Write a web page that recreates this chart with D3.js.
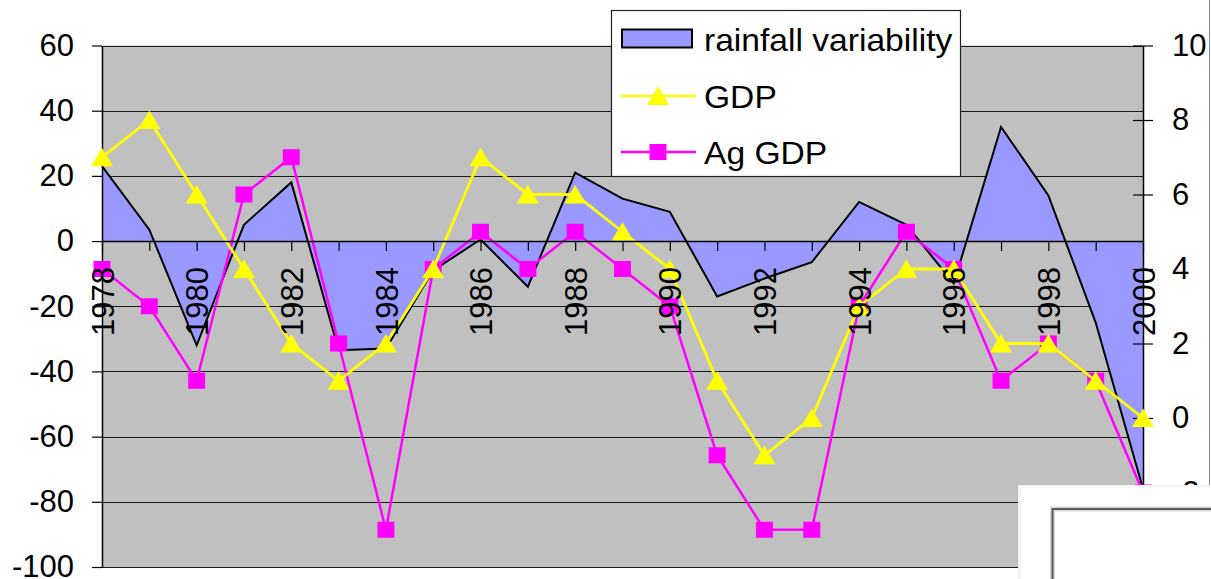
<!DOCTYPE html>
<html>
<head>
<meta charset="utf-8">
<script src="https://cdn.jsdelivr.net/npm/d3@7"></script>
<style>
	body { margin: 0; background: #fff; }
	svg { display: block; }
	text { font-family: "Liberation Sans", Arial, sans-serif; fill: #000; }
</style>
</head>
<body>
<div id="chart"></div>
<script>
// categories
const years = ["1978", "1979", "1980", "1981", "1982", "1983", "1984", "1985", "1986", "1987", "1988",
	"1989", "1990", "1991", "1992", "1993", "1994", "1995", "1996", "1997", "1998", "1999", "2000"];
// left axis series (area)
const rainfall = [23, 3.5, -32, 5, 18, -33.5, -33, -9, 0.5, -14, 21, 13, 9, -17, -11.5, -6.5, 12, 5, -13, 35, 14, -25, -76];
// right axis series (lines)
const gdp = [7, 8, 6, 4, 2, 1, 2, 4, 7, 6, 6, 5, 4, 1, -1, 0, 3, 4, 4, 2, 2, 1, 0];
const agGdp = [4, 3, 1, 6, 7, 2, -3, 4, 5, 4, 5, 4, 3, -1, -3, -3, 3, 5, 4, 1, 2, 1, -2];
// tick labels
const leftTicks = [60, 40, 20, 0, -20, -40, -60, -80, -100];
const rightTicks = [10, 8, 6, 4, 2, 0, -2];
const xLabels = ["1978", "1980", "1982", "1984", "1986", "1988", "1990", "1992", "1994", "1996", "1998", "2000"];
const seriesNames = ["rainfall variability", "GDP", "Ag GDP"];

drawchart()

function drawchart() {
	const width = 1211;
	const height = 579;
	const svg = d3.select("#chart")
		.append("svg")
		.attr("width", width)
		.attr("height", height);

	const left = 102, right = 1143, top = 45.5, bottom = 567;

	const x = d3.scalePoint().domain(years).range([left, right]).padding(0);
	const yLeft = d3.scaleLinear().domain([-100, 60]).range([bottom, top]);
	const yRight = d3.scaleLinear().domain([-4, 10]).range([bottom, top]);

	// plot area
	svg.append("rect")
		.attr("x", left)
		.attr("y", top)
		.attr("width", right - left)
		.attr("height", bottom - top)
		.attr("fill", "#c0c0c0");

	// gridlines
	svg.append("g")
		.selectAll("line")
		.data(leftTicks)
		.enter()
		.append("line")
		.attr("x1", left)
		.attr("x2", right)
		.attr("y1", d => Math.round(yLeft(d)) + 0.5)
		.attr("y2", d => Math.round(yLeft(d)) + 0.5)
		.attr("stroke", "#1a1a1a")
		.attr("stroke-width", 1);

	// rainfall area
	const area = d3.area()
		.x((d, i) => x(years[i]))
		.y0(yLeft(0))
		.y1(d => yLeft(d));
	svg.append("path")
		.datum(rainfall)
		.attr("d", area)
		.attr("fill", "#9999ff");
	svg.append("path")
		.datum(rainfall)
		.attr("d", d3.line().x((d, i) => x(years[i])).y(d => yLeft(d)))
		.attr("fill", "none")
		.attr("stroke", "#000")
		.attr("stroke-width", 2);

	// left axis
	const axisL = svg.append("g")
		.attr("transform", `translate(${left},0)`)
		.call(d3.axisLeft(yLeft).tickValues(leftTicks).tickSize(10).tickSizeOuter(0).tickPadding(18)
			.tickFormat(d => String(d)));
	// right axis
	const axisR = svg.append("g")
		.attr("transform", `translate(${right},0)`)
		.call(d3.axisRight(yRight).tickValues(rightTicks).tickSize(10).tickSizeOuter(0).tickPadding(19)
			.tickFormat(d => String(d)));
	axisR.selectAll(".tick line").attr("x1", -10);

	// markers
	const tri = "M0,-9.5L11,9L-11,9Z";
	const sq = "M-8.5,-8H8.5V8H-8.5Z";

	// Ag GDP
	svg.append("path")
		.datum(agGdp)
		.attr("d", d3.line().x((d, i) => x(years[i])).y(d => yRight(d)))
		.attr("fill", "none")
		.attr("stroke", "#ff00ff")
		.attr("stroke-width", 2.5);
	svg.append("g")
		.selectAll("path")
		.data(agGdp)
		.enter()
		.append("path")
		.attr("d", sq)
		.attr("transform", (d, i) => `translate(${x(years[i])},${yRight(d)})`)
		.attr("fill", "#ff00ff");

	// GDP
	svg.append("path")
		.datum(gdp)
		.attr("d", d3.line().x((d, i) => x(years[i])).y(d => yRight(d)))
		.attr("fill", "none")
		.attr("stroke", "#ffff00")
		.attr("stroke-width", 2.8);
	svg.append("g")
		.selectAll("path")
		.data(gdp)
		.enter()
		.append("path")
		.attr("d", tri)
		.attr("transform", (d, i) => `translate(${x(years[i])},${yRight(d)})`)
		.attr("fill", "#ffff00");

	// category axis at 0
	const axisB = svg.append("g")
		.attr("transform", `translate(0,${yLeft(0)})`)
		.call(d3.axisBottom(x).tickSize(10).tickSizeOuter(0).tickFormat(d => xLabels.includes(d) ? d : ""));
	axisB.selectAll(".tick text")
		.attr("transform", "rotate(-90)")
		.attr("text-anchor", "end")
		.attr("x", -26)
		.attr("y", 0)
		.attr("dy", "0.36em")
		.style("font-size", "31px");

	svg.selectAll(".domain").attr("stroke", "#000").attr("stroke-width", 1.5);
	svg.selectAll(".tick line").attr("stroke", "#000").attr("stroke-width", 1.2);
	axisL.selectAll(".tick text").style("font-size", "31px");
	axisR.selectAll(".tick text").style("font-size", "31px");
	svg.selectAll("text").attr("fill", "black");

	// legend
	const legend = svg.append("g").attr("id", "legend");
	legend.append("rect")
		.attr("x", 611.5)
		.attr("y", 10.5)
		.attr("width", 349)
		.attr("height", 166)
		.attr("fill", "#fff")
		.attr("stroke", "#222")
		.attr("stroke-width", 1.2);
	const rows = [39, 96, 152];
	legend.append("rect")
		.attr("x", 622)
		.attr("y", 29.5)
		.attr("width", 70)
		.attr("height", 18)
		.attr("fill", "#9999ff")
		.attr("stroke", "#000")
		.attr("stroke-width", 2);
	const lineItems = [{c: "#ffff00", m: tri, y: rows[1]}, {c: "#ff00ff", m: sq, y: rows[2]}];
	lineItems.forEach(it => {
		legend.append("line")
			.attr("x1", 621).attr("x2", 696)
			.attr("y1", it.y).attr("y2", it.y)
			.attr("stroke", it.c)
			.attr("stroke-width", 2.5);
		legend.append("path")
			.attr("d", it.m)
			.attr("transform", `translate(${658},${it.y})`)
			.attr("fill", it.c);
	});
	legend.selectAll("text.leg")
		.data(seriesNames)
		.enter()
		.append("text")
		.attr("class", "leg")
		.attr("transform", (d, i) => `translate(${704},${rows[i]}) scale(1.05,1)`)
		.attr("dy", "0.36em")
		.style("font-size", "32px")
		.text(d => d);

	// window edge and the box covering the bottom right corner
	svg.append("line")
		.attr("x1", 1209.5).attr("x2", 1209.5)
		.attr("y1", 0).attr("y2", 487)
		.attr("stroke", "#8a8a8a");
	svg.append("rect")
		.attr("x", 1018)
		.attr("y", 485)
		.attr("width", 200)
		.attr("height", 100)
		.attr("fill", "#f4f4f4");
	svg.append("rect")
		.attr("x", 1021)
		.attr("y", 487)
		.attr("width", 200)
		.attr("height", 100)
		.attr("fill", "#fff");
	svg.append("rect")
		.attr("x", 1052.5)
		.attr("y", 509)
		.attr("width", 180)
		.attr("height", 90)
		.attr("fill", "#fff")
		.attr("stroke", "#d8d8d8")
		.attr("stroke-width", 5);
	svg.append("rect")
		.attr("x", 1052.5)
		.attr("y", 509)
		.attr("width", 180)
		.attr("height", 90)
		.attr("fill", "none")
		.attr("stroke", "#5a5a5a")
		.attr("stroke-width", 2);
}
</script>
</body>
</html>
